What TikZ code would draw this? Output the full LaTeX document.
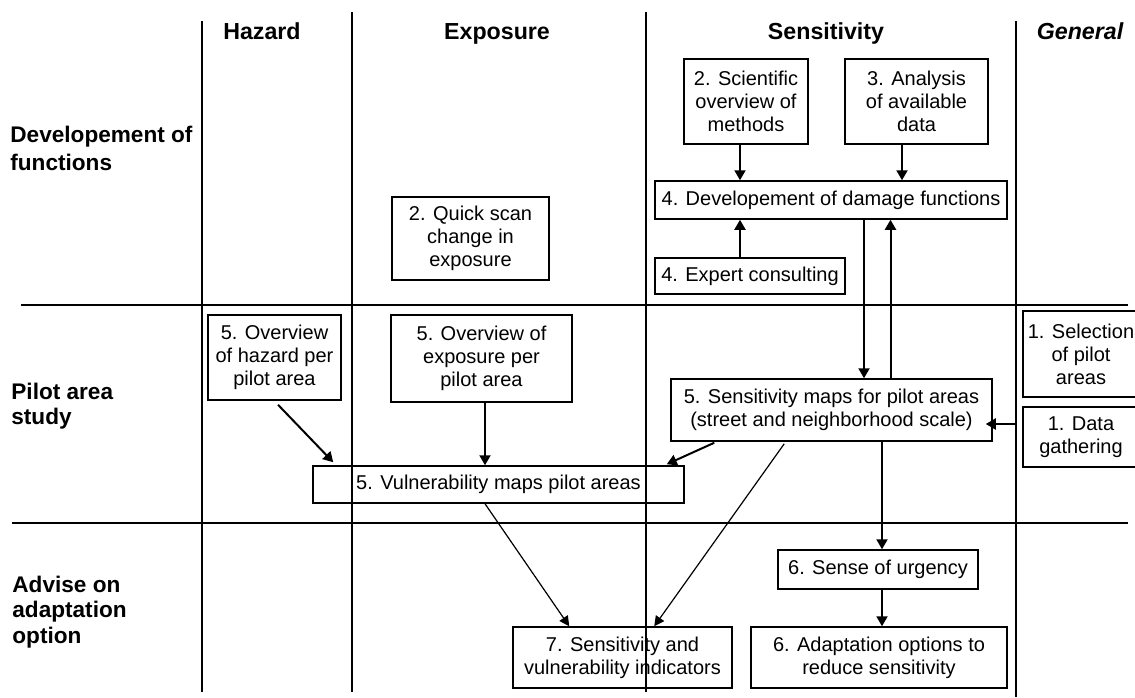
\documentclass[tikz,border=0pt]{standalone}
\usepackage{fontspec}
\setmainfont{Liberation Sans}
\usetikzlibrary{arrows.meta,calc}
\begin{document}
\begin{tikzpicture}[x=0.5pt,y=-0.5pt,
  grid/.style={line width=0.75pt},
  box/.style={draw, line width=0.75pt, inner sep=0pt, align=center, font=\fontsize{10pt}{11.5pt}\selectfont},
  bx/.style 2 args={minimum width=#1*0.5pt, minimum height=#2*0.5pt},
  hdr/.style={font=\fontsize{11.6pt}{13.5pt}\selectfont\bfseries, anchor=base, inner sep=0pt},
  rowlbl/.style={font=\fontsize{11.3pt}{13.5pt}\selectfont\bfseries, align=left, anchor=base west, inner sep=0pt},
  arr/.style={line width=1pt, -{Triangle[length=5pt,width=5.5pt]}},
  thinarr/.style={line width=0.6pt, -{Triangle[length=5pt,width=5pt]}}
]
\clip (0,0) rectangle (1135,697);

% grid
\draw[grid] (202,21) -- (202,692);
\draw[grid] (352,12) -- (352,692);
\draw[grid] (646,12) -- (646,692);
\draw[grid] (1016,21) -- (1016,697);
\draw[grid] (21,305) -- (1128,305);
\draw[grid] (12,523) -- (1128,523);

% headers
\node[hdr] (hHaz) at (262,39) {Hazard};
\node[hdr] (hExp) at (497,39) {Exposure};
\node[hdr] (hSen) at (826,39) {Sensitivity};
\node[hdr,font=\fontsize{11.6pt}{13.5pt}\selectfont\bfseries\itshape] (hGen) at (1080,39) {General};

% row labels (anchor = baseline of last line)
\node[rowlbl,font=\fontsize{11.3pt}{14pt}\selectfont\bfseries] (rDev) at (10,170) {Developement of\\functions};
\node[rowlbl,font=\fontsize{11.3pt}{12.5pt}\selectfont\bfseries] (rPil) at (11,424) {Pilot area\\study};
\node[rowlbl,font=\fontsize{11.3pt}{12.75pt}\selectfont\bfseries] (rAdv) at (12,643) {Advise on\\adaptation\\option};

% boxes
\node[box,bx={124}{85}] (sci) at (746,101.5) {2. Scientific\\overview of\\methods};
\node[box,bx={143}{85}] (ana) at (916.5,101.5) {3. Analysis\\of available\\data};
\node[box,bx={352}{38}] (dev) at (831,200) {4. Developement of damage functions};
\node[box,bx={157}{83}] (quick) at (470.5,238.5) {2. Quick scan\\change in\\exposure};
\node[box,bx={190}{36}] (expc) at (750,276) {4. Expert consulting};
\node[box,bx={133}{85}] (hazov) at (274.5,357.5) {5. Overview\\of hazard per\\pilot area};
\node[box,bx={181}{87}] (expov) at (481.5,358.5) {5. Overview of\\exposure per\\pilot area};
\node[box,bx={116}{86}] (sel) at (1081,354) {1. Selection\\of pilot\\areas};
\node[box,bx={116}{60}] (data) at (1081,437) {1. Data\\gathering};
\node[box,bx={321}{62}] (sens) at (831.5,410) {5. Sensitivity maps for pilot areas\\(street and neighborhood scale)};
\node[box,bx={371}{37}] (vul) at (498.5,484.5) {5. Vulnerability maps pilot areas};
\node[box,bx={200}{39}] (urg) at (878,569.5) {6. Sense of urgency};
\node[box,bx={219}{61}] (ind) at (622.5,657.5) {7. Sensitivity and\\vulnerability indicators};
\node[box,bx={256}{61}] (adapt) at (879,657.5) {6. Adaptation options to\\reduce sensitivity};

% connectors
\draw[arr] ([xshift=-3pt]sci.south) -- ([xshift=-3pt]sci.south |- dev.north);
\draw[arr] ([xshift=-7.25pt]ana.south) -- ([xshift=-7.25pt]ana.south |- dev.north);
\draw[arr] ([xshift=-5pt]expc.north) -- ([xshift=-5pt]expc.north |- dev.south);
\draw[arr] ([xshift=16.5pt]dev.south) -- ([xshift=16.5pt]dev.south |- sens.north);
\draw[arr] ([xshift=29.5pt]sens.north) -- ([xshift=29.5pt]sens.north |- dev.south);
\draw[arr] ([shift={(-7,-13)}]data.west) -- ([shift={(-7,-13)}]data.west -| sens.east);
\draw[arr] ([shift={(3.5,4)}]hazov.south) -- ([shift={(21,-3)}]vul.north west);
\draw[arr] ([xshift=1.75pt]expov.south) -- ([xshift=1.75pt]expov.south |- vul.north);
\draw[arr] ([shift={(44,1)}]sens.south west) -- ([shift={(-18,-1)}]vul.north east);
\draw[thinarr] ([xshift=-6.75pt]vul.south) -- ([xshift=28.5pt]ind.north west);
\draw[thinarr] ([shift={(114,2)}]sens.south west) -- ([xshift=71pt]ind.north west);
\draw[arr] ([xshift=25.25pt]sens.south) -- ([xshift=25.25pt]sens.south |- urg.north);
\draw[arr] ([xshift=2pt]urg.south) -- ([xshift=2pt]urg.south |- adapt.north);
\end{tikzpicture}
\end{document}
